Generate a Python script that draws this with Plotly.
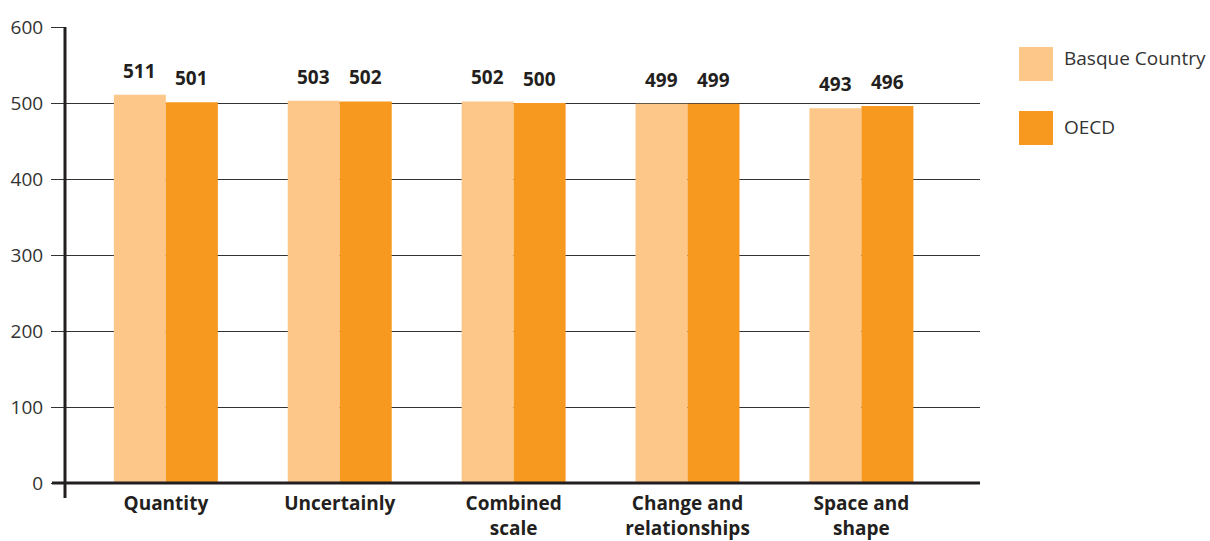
import plotly.graph_objects as go

categories = ["Quantity", "Uncertainly", "Combined<br>scale", "Change and<br>relationships", "Space and<br>shape"]
series_names = ["Basque Country", "OECD"]
basque = [511, 503, 502, 499, 493]
oecd = [501, 502, 500, 499, 496]
y_ticks = [0, 100, 200, 300, 400, 500, 600]

colors = ["#FDC78A", "#F7981F"]
txt = "#231F20"
font_family = "Open Sans, Noto Sans, sans-serif"

fig = go.Figure()
for name, vals, col in zip(series_names, [basque, oecd], colors):
    fig.add_trace(go.Bar(
        x=categories, y=vals, name=name, marker=dict(color=col, line=dict(width=0)),
        showlegend=False,
    ))

# value labels above bars
for vals, shift in zip([basque, oecd], [-26, 26]):
    for c, v in zip(categories, vals):
        fig.add_annotation(x=c, y=v, xref="x", yref="y", text=f"<b>{v}</b>", showarrow=False,
                           xanchor="center", yanchor="bottom", xshift=shift, yshift=9,
                           font=dict(family=font_family, size=19, color=txt))

W, H = 1210, 541
ml, mr, mt, mb = 65, 230, 27, 58
pw, ph = W - ml - mr, H - mt - mb

fig.update_layout(
    width=W, height=H,
    margin=dict(l=ml, r=mr, t=mt, b=mb, pad=0, autoexpand=False),
    paper_bgcolor="white", plot_bgcolor="white",
    barmode="group", bargap=0.402, bargroupgap=0,
    xaxis=dict(range=[-0.580, 4.682], showgrid=False, zeroline=False, showline=False,
               ticks="", tickfont=dict(family=font_family, size=19, color=txt, weight="bold"),
               automargin=False, ticklabelstandoff=7, fixedrange=True),
    yaxis=dict(range=[0, 600], tickvals=y_ticks, showgrid=True, gridcolor="#333333", gridwidth=1.3,
               zeroline=False, showline=False, ticks="outside", ticklen=13, tickcolor="#333333",
               tickwidth=1.3, tickfont=dict(family=font_family, size=19, color="#333333"),
               ticklabelstandoff=4, automargin=False),
    font=dict(family=font_family),
)

# axis lines
fig.add_shape(type="line", xref="paper", yref="paper", x0=-13 / pw, x1=1, y0=0, y1=0,
              line=dict(color=txt, width=3), layer="above")
fig.add_shape(type="line", xref="paper", yref="paper", x0=0, x1=0, y0=-15 / ph, y1=1,
              line=dict(color=txt, width=3), layer="above")

# manual legend with large swatches
leg_x0 = (1019 - ml) / pw
leg_x1 = (1053 - ml) / pw
sw_tops = [47, 111]
text_centers = [58.5, 126.5]
for name, col, top, tc in zip(series_names, colors, sw_tops, text_centers):
    y1 = 1 - (top - mt) / ph
    y0 = 1 - (top + 34 - mt) / ph
    fig.add_shape(type="rect", xref="paper", yref="paper", x0=leg_x0, x1=leg_x1, y0=y0, y1=y1,
                  fillcolor=col, line=dict(width=0))
    fig.add_annotation(xref="paper", yref="paper", x=(1062 - ml) / pw, y=1 - (tc - mt) / ph,
                       text=name, showarrow=False, xanchor="left", yanchor="middle",
                       font=dict(family=font_family, size=19, color="#333333"))

fig.write_html("out.html")
